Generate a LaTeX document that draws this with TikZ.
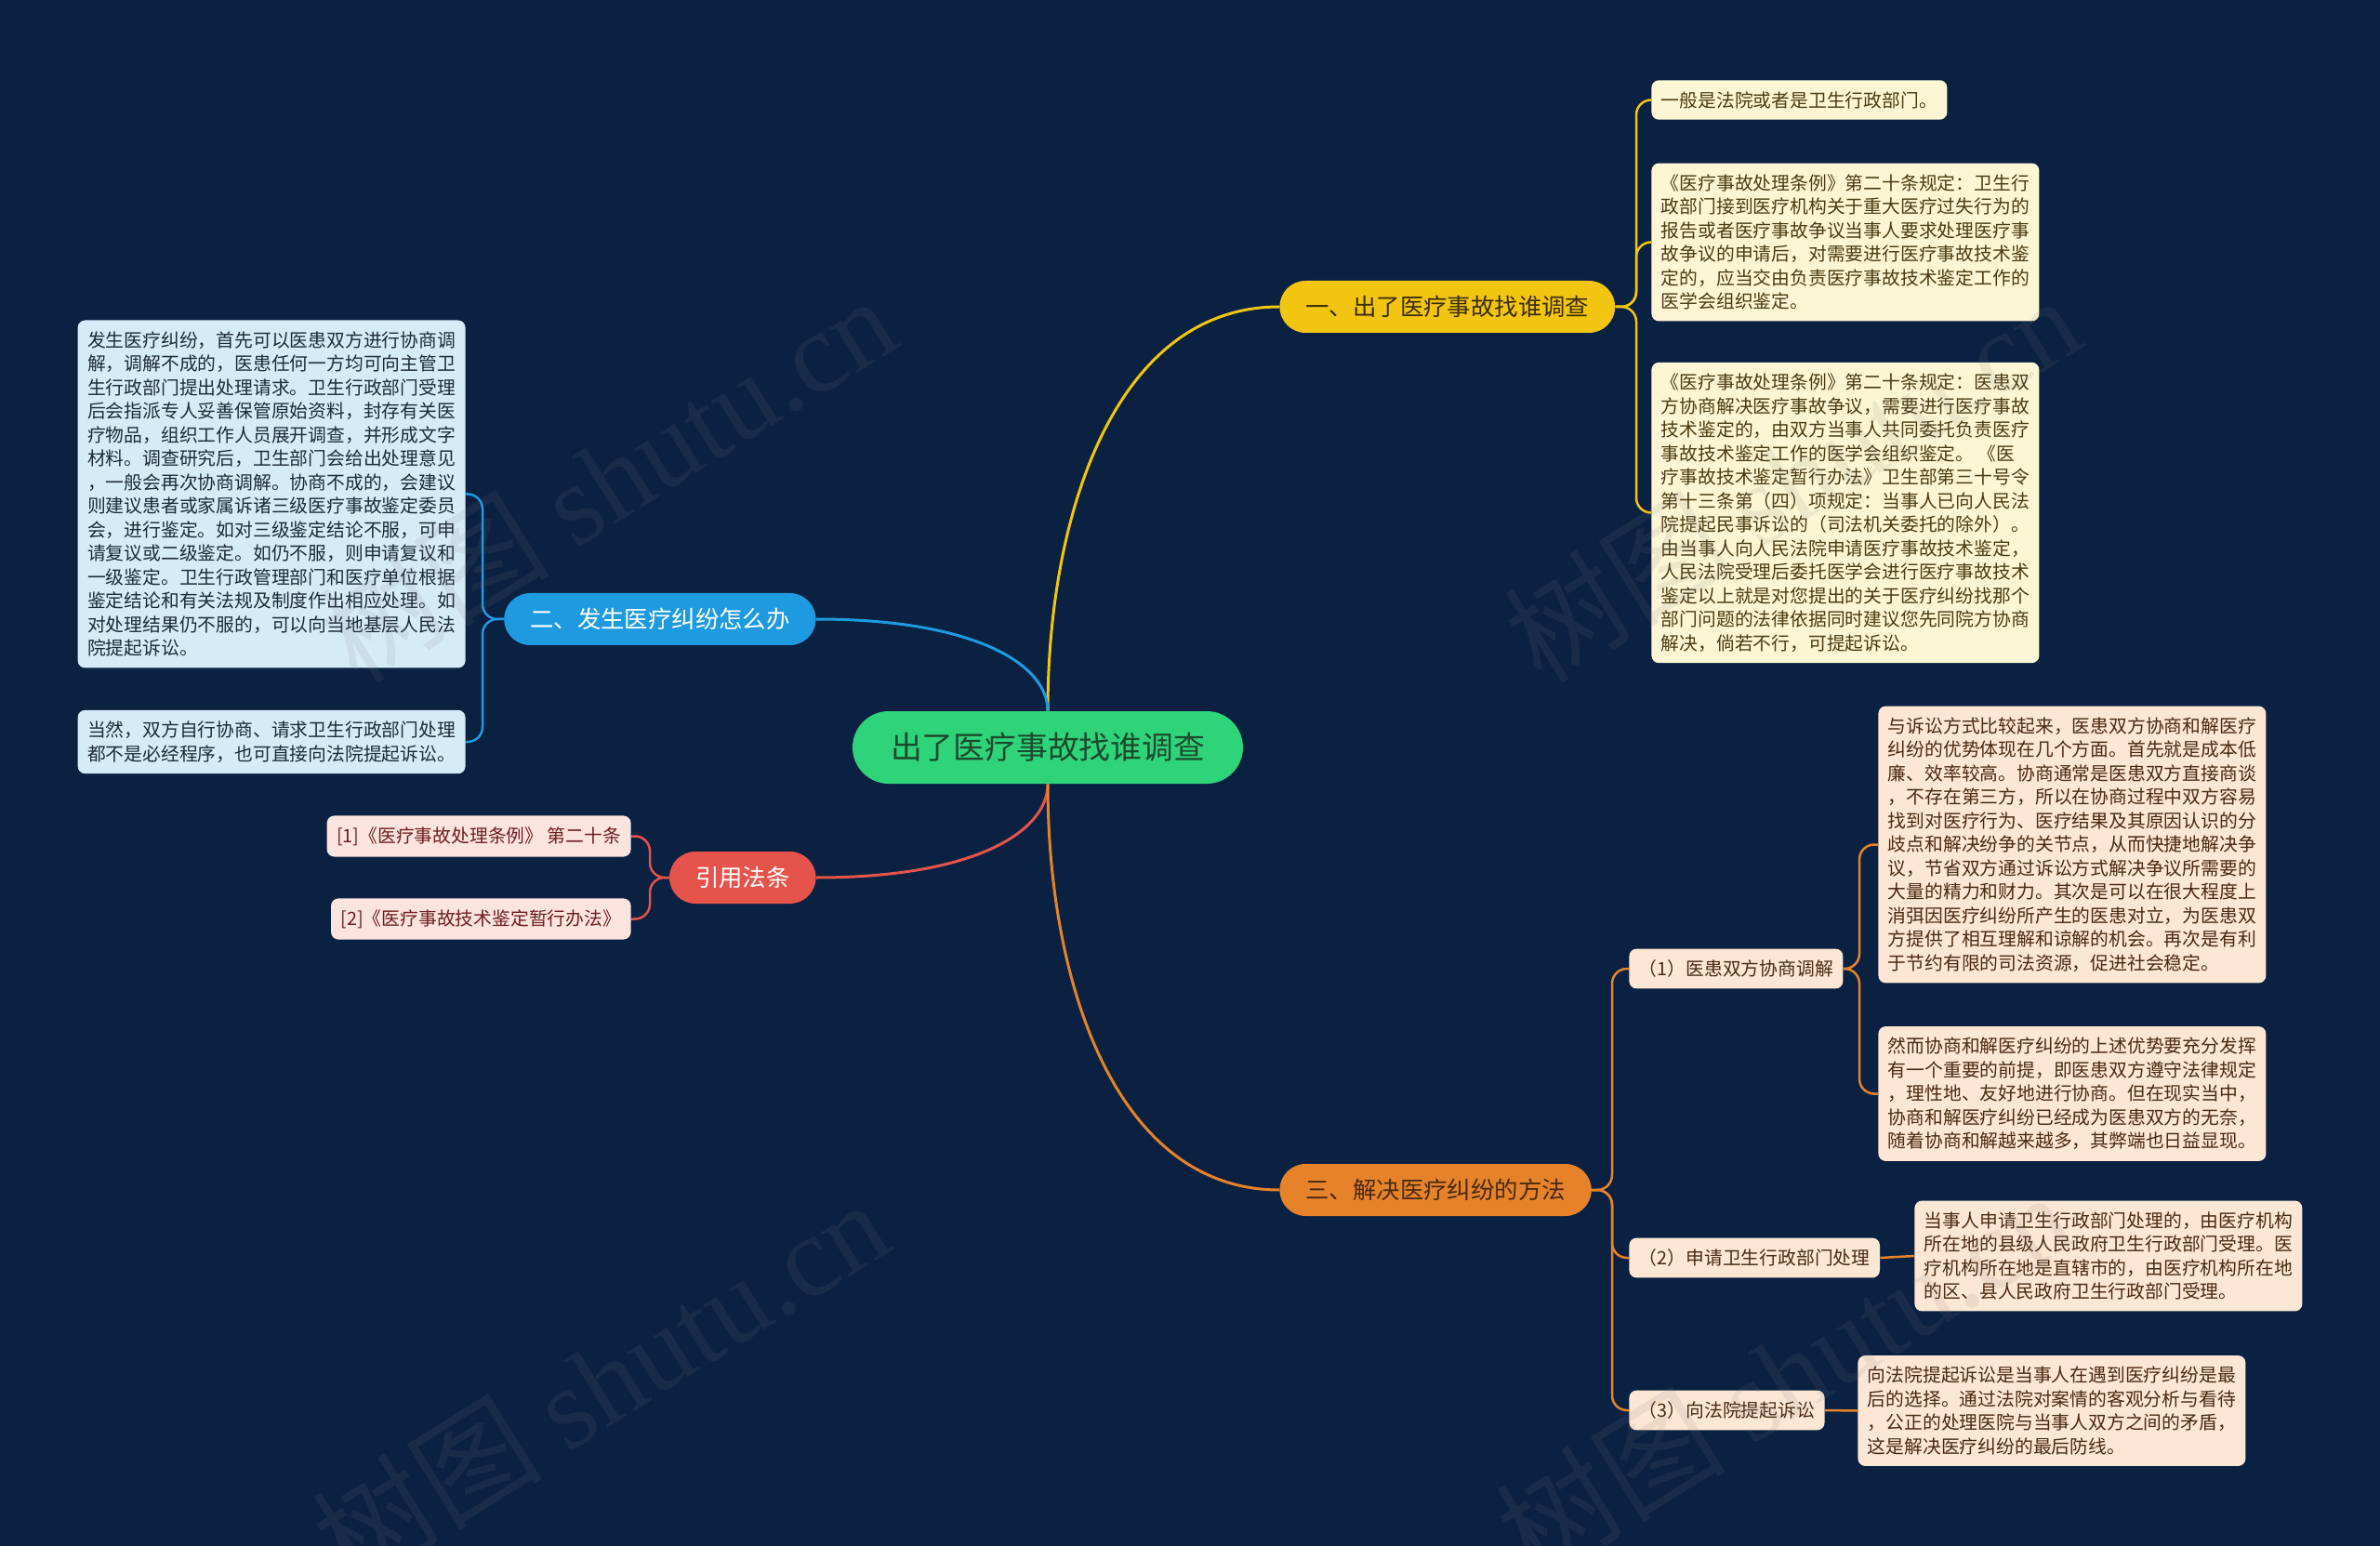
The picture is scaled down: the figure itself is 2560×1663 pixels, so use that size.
\documentclass[tikz,border=0pt]{standalone}
\usepackage{fontspec}
\setmainfont{Noto Sans CJK SC}
\newfontfamily\wmfont{Liberation Serif}
\definecolor{cbg}{HTML}{0A2142}
\definecolor{cgreen}{HTML}{2FD37A}
\definecolor{tgreen}{HTML}{1B4A2C}
\definecolor{cyel}{HTML}{F2C511}
\definecolor{tyel}{HTML}{3A2F05}
\definecolor{cblue}{HTML}{1E9AE0}
\definecolor{cred}{HTML}{E5534B}
\definecolor{cora}{HTML}{E6832A}
\definecolor{tora}{HTML}{4A2A10}
\definecolor{fyel}{HTML}{FDF6D5}
\definecolor{lyel}{HTML}{4A3B12}
\definecolor{fblue}{HTML}{D5EBF7}
\definecolor{lblue}{HTML}{1C2B3A}
\definecolor{fpink}{HTML}{FBE3DE}
\definecolor{lpink}{HTML}{6E1F1F}
\definecolor{fora}{HTML}{FCE6D4}
\definecolor{lora}{HTML}{4A2A12}
\begin{document}
\begin{tikzpicture}[x=0.5pt,y=-0.5pt,
  rootbox/.style={fill=cgreen,text=tgreen,rounded corners=19.5pt,minimum height=39pt,
    inner xsep=20.5pt,inner ysep=0pt,font=\fontsize{16.9}{20}\selectfont},
  brbox/.style={rounded corners=14pt,minimum height=28pt,inner xsep=14pt,inner ysep=0pt,
    font=\fontsize{12.7}{15}\selectfont},
  leafbox/.style={rounded corners=4pt,inner xsep=5.25pt,inner ysep=6pt,align=left,
    font=\fontsize{9.9}{12.75}\selectfont},
  yleaf/.style={leafbox,fill=fyel,text=lyel},
  bleaf/.style={leafbox,fill=fblue,text=lblue},
  pleaf/.style={leafbox,fill=fpink,text=lpink},
  oleaf/.style={leafbox,fill=fora,text=lora},
  mainline/.style={line width=1.5pt},
  subline/.style={line width=1.25pt,rounded corners=8pt},
  wm/.style={text=gray,text opacity=0.12,font=\fontsize{62}{70}\selectfont,rotate=32}
]
\fill[cbg] (0,0) rectangle (2560,1663);
\useasboundingbox (0,0) rectangle (2560,1663);

% root and branches
\node[rootbox] (root) at (1127,804) {出了医疗事故找谁调查};
\node[brbox,fill=cyel,text=tyel,anchor=west] (b1) at (1376,330) {一、出了医疗事故找谁调查};
\node[brbox,fill=cblue,text=white,anchor=east] (b2) at (878,666) {二、发生医疗纠纷怎么办};
\node[brbox,fill=cred,text=white,anchor=east] (b3) at (878,944) {引用法条};
\node[brbox,fill=cora,text=tora,anchor=west] (b4) at (1376,1280) {三、解决医疗纠纷的方法};

% branch 1 leaves
\node[yleaf,anchor=west] (L1a) at (1776,107.5) {一般是法院或者是卫生行政部门。};
\node[yleaf,anchor=west] (L1b) at (1776,260.5) {《医疗事故处理条例》第二十条规定：卫生行\\
政部门接到医疗机构关于重大医疗过失行为的\\
报告或者医疗事故争议当事人要求处理医疗事\\
故争议的申请后，对需要进行医疗事故技术鉴\\
定的，应当交由负责医疗事故技术鉴定工作的\\
医学会组织鉴定。};
\node[yleaf,anchor=west] (L1c) at (1776,551.5) {《医疗事故处理条例》第二十条规定：医患双\\
方协商解决医疗事故争议，需要进行医疗事故\\
技术鉴定的，由双方当事人共同委托负责医疗\\
事故技术鉴定工作的医学会组织鉴定。 《医\\
疗事故技术鉴定暂行办法》卫生部第三十号令\\
第十三条第（四）项规定：当事人已向人民法\\
院提起民事诉讼的（司法机关委托的除外）。\\
由当事人向人民法院申请医疗事故技术鉴定，\\
人民法院受理后委托医学会进行医疗事故技术\\
鉴定以上就是对您提出的关于医疗纠纷找那个\\
部门问题的法律依据同时建议您先同院方协商\\
解决，倘若不行，可提起诉讼。};

% branch 2 leaves
\node[bleaf,anchor=east] (L2a) at (501,531.5) {发生医疗纠纷，首先可以医患双方进行协商调\\
解，调解不成的，医患任何一方均可向主管卫\\
生行政部门提出处理请求。卫生行政部门受理\\
后会指派专人妥善保管原始资料，封存有关医\\
疗物品，组织工作人员展开调查，并形成文字\\
材料。调查研究后，卫生部门会给出处理意见\\
，一般会再次协商调解。协商不成的，会建议\\
则建议患者或家属诉诸三级医疗事故鉴定委员\\
会，进行鉴定。如对三级鉴定结论不服，可申\\
请复议或二级鉴定。如仍不服，则申请复议和\\
一级鉴定。卫生行政管理部门和医疗单位根据\\
鉴定结论和有关法规及制度作出相应处理。如\\
对处理结果仍不服的，可以向当地基层人民法\\
院提起诉讼。};
\node[bleaf,anchor=east] (L2b) at (501,798) {当然，双方自行协商、请求卫生行政部门处理\\
都不是必经程序，也可直接向法院提起诉讼。};

% branch 3 leaves
\node[pleaf,anchor=east] (L3a) at (679,899.5) {[1]《医疗事故处理条例》 第二十条};
\node[pleaf,anchor=east] (L3b) at (679,988.5) {[2]《医疗事故技术鉴定暂行办法》};

% branch 4 children
\node[oleaf,anchor=west] (C1) at (1752,1042) {（1）医患双方协商调解};
\node[oleaf,anchor=west] (C2) at (1752,1353) {（2）申请卫生行政部门处理};
\node[oleaf,anchor=west] (C3) at (1752,1517) {（3）向法院提起诉讼};

\node[oleaf,anchor=west] (C1a) at (2020,908.5) {与诉讼方式比较起来，医患双方协商和解医疗\\
纠纷的优势体现在几个方面。首先就是成本低\\
廉、效率较高。协商通常是医患双方直接商谈\\
，不存在第三方，所以在协商过程中双方容易\\
找到对医疗行为、医疗结果及其原因认识的分\\
歧点和解决纷争的关节点，从而快捷地解决争\\
议，节省双方通过诉讼方式解决争议所需要的\\
大量的精力和财力。其次是可以在很大程度上\\
消弭因医疗纠纷所产生的医患对立，为医患双\\
方提供了相互理解和谅解的机会。再次是有利\\
于节约有限的司法资源，促进社会稳定。};
\node[oleaf,anchor=west] (C1b) at (2020,1176.5) {然而协商和解医疗纠纷的上述优势要充分发挥\\
有一个重要的前提，即医患双方遵守法律规定\\
，理性地、友好地进行协商。但在现实当中，\\
协商和解医疗纠纷已经成为医患双方的无奈，\\
随着协商和解越来越多，其弊端也日益显现。};
\node[oleaf,anchor=west] (C2a) at (2059,1351) {当事人申请卫生行政部门处理的，由医疗机构\\
所在地的县级人民政府卫生行政部门受理。医\\
疗机构所在地是直辖市的，由医疗机构所在地\\
的区、县人民政府卫生行政部门受理。};
\node[oleaf,anchor=west] (C3a) at (1998,1517.5) {向法院提起诉讼是当事人在遇到医疗纠纷是最\\
后的选择。通过法院对案情的客观分析与看待\\
，公正的处理医院与当事人双方之间的矛盾，\\
这是解决医疗纠纷的最后防线。};

% main connectors
\draw[mainline,cyel] (root.north) .. controls (1127,548) and (1202,330) .. (b1.west);
\draw[mainline,cblue] (root.north) .. controls (1127,716) and (1052,666) .. (b2.east);
\draw[mainline,cred] (root.south) .. controls (1127,893) and (1052,944) .. (b3.east);
\draw[mainline,cora] (root.south) .. controls (1127,1061) and (1202,1280) .. (b4.west);

% brackets
\coordinate (k1) at (1760,330);
\coordinate (k2) at (519,666);
\coordinate (k3) at (699,944);
\coordinate (k4) at (1734,1280);
\coordinate (k5) at (2000,1042);
\draw[subline,cyel] (b1.east) -- (k1) |- (L1a.west);
\draw[subline,cyel] (b1.east) -- (k1) |- (L1b.west);
\draw[subline,cyel] (b1.east) -- (k1) |- (L1c.west);
\draw[subline,cblue] (b2.west) -- (k2) |- (L2a.east);
\draw[subline,cblue] (b2.west) -- (k2) |- (L2b.east);
\draw[subline,cred] (b3.west) -- (k3) |- (L3a.east);
\draw[subline,cred] (b3.west) -- (k3) |- (L3b.east);
\draw[subline,cora] (b4.east) -- (k4) |- (C1.west);
\draw[subline,cora] (b4.east) -- (k4) |- (C2.west);
\draw[subline,cora] (b4.east) -- (k4) |- (C3.west);
\draw[subline,cora] (C1.east) -- (k5) |- (C1a.west);
\draw[subline,cora] (C1.east) -- (k5) |- (C1b.west);
\draw[subline,cora] (C2.east) -- (C2a.west);
\draw[subline,cora] (C3.east) -- (C3a.west);

% watermarks
\node[wm] (w1) at (653,514) {树图 {\wmfont shutu.cn}};
\node[wm] (w2) at (1927,514) {树图 {\wmfont shutu.cn}};
\node[wm] (w3) at (645,1486) {树图 {\wmfont shutu.cn}};
\node[wm] (w4) at (1918,1478) {树图 {\wmfont shutu.cn}};
\end{tikzpicture}
\end{document}
